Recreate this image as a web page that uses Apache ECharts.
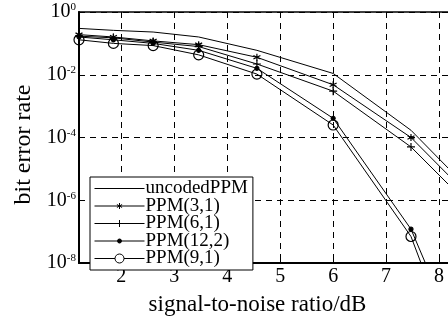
<!DOCTYPE html>
<html>
<head>
<meta charset="utf-8">
<script src="https://cdn.jsdelivr.net/npm/echarts@6/dist/echarts.min.js"></script>
<style>
  html, body { margin: 0; padding: 0; background: #fff; overflow: hidden; }
  /* the plot runs past the right edge of the window, as in the cropped original */
  #chart { width: 540px; height: 321px; }
</style>
</head>
<body>
<div id="chart"></div>
<script>
// SNR points (dB) shared by all curves
const snr = [1.2, 1.85, 2.6, 3.46, 4.56, 6.0, 7.47, 9.0];

const uncoded = [0.30, 0.26, 0.23, 0.16, 0.060, 0.011, 1.7e-4, 4e-7];
const ppm31 = [0.19, 0.16, 0.12, 0.091, 0.036, 0.0048, 1.0e-4, 2.5e-7];
const ppm61 = [0.17, 0.15, 0.11, 0.079, 0.022, 0.003, 5e-5, 1.3e-7];
const ppm122 = [0.16, 0.13, 0.10, 0.060, 0.016, 4.1e-4, 1.2e-7, 1e-13];
const ppm91 = [0.13, 0.10, 0.085, 0.043, 0.0105, 2.5e-4, 7e-8, 1e-14];

const seriesNames = ['uncodedPPM', 'PPM(3,1)', 'PPM(6,1)', 'PPM(12,2)', 'PPM(9,1)'];

const FONT = 'Liberation Serif';

const SYMBOLS = {
  star: 'path://M5,0L5,10M0.7,2.5L9.3,7.5M0.7,7.5L9.3,2.5',
  plus: 'path://M5,0L5,10M0,5L10,5',
};

// legend icons: line sample with marker in the middle (box 50x10)
const LEGEND_ICONS = [
  'path://M0,0L0,0M0,5L50,5M50,10L50,10',
  'path://M0,5L50,5M25,2L25,8M22.4,3.5L27.6,6.5M22.4,6.5L27.6,3.5M50,0L50,0M0,10L0,10',
  'path://M0,5L50,5M25,1.5L25,8.5M50,0L50,0M0,10L0,10',
  'path://M0,5L23,5A2,2 0 1,1 27,5A2,2 0 1,1 23,5M27,5L50,5M50,0L50,0M0,10L0,10',
  'path://M0,5L20.5,5M29.5,5A4.5,4.5 0 1,1 20.5,5A4.5,4.5 0 1,1 29.5,5M29.5,5L50,5M50,0L50,0M0,10L0,10',
];

const zip = (ys) => snr.map((x, i) => [x, ys[i]]);

const makeSeries = (name, ys, symbol, size, fill) => ({
  name,
  type: 'line',
  data: zip(ys),
  symbol,
  symbolSize: size,
  showSymbol: symbol !== 'none',
  clip: true,
  lineStyle: { color: '#000', width: 1 },
  itemStyle: { color: fill, borderColor: '#000', borderWidth: 1.2 },
  emphasis: { disabled: true },
  z: 3,
});

const chart = echarts.init(document.getElementById('chart'), null, { renderer: 'canvas' });

const option = {
  backgroundColor: '#fff',
  animation: false,
  grid: {
    left: 79,
    width: 413,
    top: 12,
    bottom: 46,
    show: true,
    borderColor: '#000',
    borderWidth: 1.5,
  },
  legend: {
    orient: 'vertical',
    left: 90,
    top: 177,
    padding: [2, 5, 2, 4],
    itemGap: -1.5,
    itemWidth: 50,
    itemHeight: 10,
    backgroundColor: '#fff',
    borderColor: '#000',
    borderWidth: 1,
    borderRadius: 0,
    data: seriesNames.map((n, i) => ({
      name: n,
      icon: LEGEND_ICONS[i],
      itemStyle: {
        color: i === 4 ? 'rgba(255,255,255,0)' : '#000',
        borderColor: '#000',
        borderWidth: 1,
      },
    })),
    textStyle: {
      fontFamily: FONT,
      fontSize: 19,
      color: '#000',
      lineHeight: 16,
      padding: [0, 0, 0, -4],
    },
  },
  xAxis: {
    type: 'value',
    min: 1.2,
    max: 9,
    splitNumber: 8,
    name: 'signal-to-noise ratio/dB',
    nameLocation: 'middle',
    nameGap: 30,
    nameTextStyle: { fontFamily: FONT, fontSize: 23, color: '#000', padding: [0, 56, 0, 0] },
    axisLine: { onZero: false, lineStyle: { color: '#000', width: 2 } },
    axisTick: { inside: true, length: 4, lineStyle: { color: '#000' } },
    axisLabel: {
      showMinLabel: false,
      showMaxLabel: false,
      margin: 4,
      fontFamily: FONT,
      fontSize: 20,
      color: '#000',
    },
    splitLine: { show: true, lineStyle: { color: '#000', type: [6, 5], width: 1 } },
  },
  yAxis: {
    type: 'log',
    logBase: 10,
    min: 1e-8,
    max: 1,
    interval: 2,
    name: 'bit error rate',
    nameLocation: 'middle',
    nameGap: 42,
    nameTextStyle: { fontFamily: FONT, fontSize: 24, color: '#000', padding: [0, 14, 0, 0] },
    axisLine: { lineStyle: { color: '#000', width: 2 } },
    axisTick: { inside: true, length: 4, lineStyle: { color: '#000' } },
    axisLabel: {
      margin: 3,
      formatter: (v) => '{b|10}{e|' + Math.round(Math.log10(v)) + '}',
      rich: {
        b: { fontFamily: FONT, fontSize: 20, color: '#000' },
        e: { fontFamily: FONT, fontSize: 11, color: '#000', verticalAlign: 'top', padding: [0, 0, 6, 0] },
      },
    },
    splitLine: { show: true, lineStyle: { color: '#000', type: [6, 5], width: 1 } },
  },
  series: [
    makeSeries(seriesNames[0], uncoded, 'none', 0, '#000'),
    makeSeries(seriesNames[1], ppm31, SYMBOLS.star, 7, '#000'),
    makeSeries(seriesNames[2], ppm61, SYMBOLS.plus, 8, '#000'),
    makeSeries(seriesNames[3], ppm122, 'circle', 4, '#000'),
    makeSeries(seriesNames[4], ppm91, 'circle', 10, 'rgba(255,255,255,0)'),
  ],
};

chart.setOption(option);
</script>
</body>
</html>
